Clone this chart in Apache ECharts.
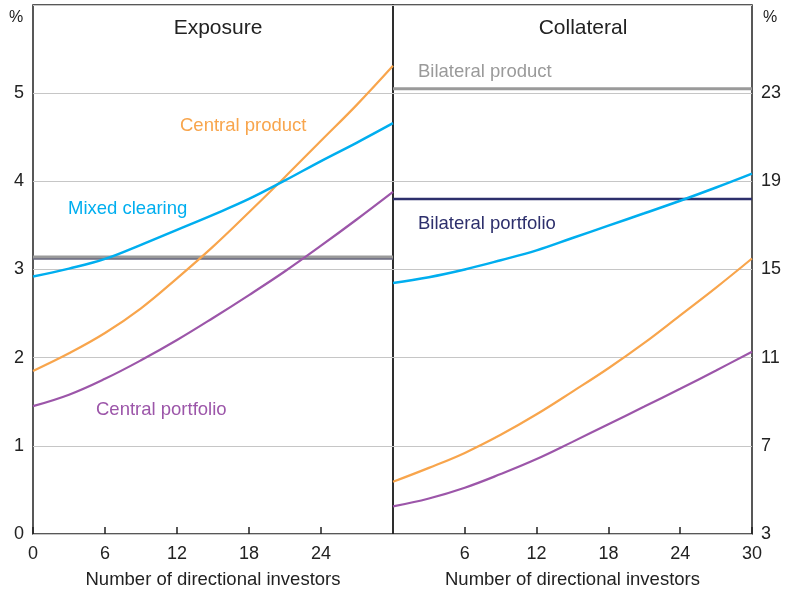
<!DOCTYPE html>
<html>
<head>
<meta charset="utf-8">
<script src="https://cdn.jsdelivr.net/npm/echarts@6/dist/echarts.min.js"></script>
<style>
  html, body { margin: 0; padding: 0; background: #fff; }
  #chart { width: 785px; height: 594px; }
</style>
</head>
<body>
<div id="chart"></div>
<script>
// number of directional investors (x)
const investors = [0, 3, 6, 9, 12, 15, 18, 21, 24, 27, 30];

// Exposure panel, per cent
const expCentralProduct   = [1.85, 2.05, 2.28, 2.56, 2.90, 3.26, 3.65, 4.05, 4.46, 4.87, 5.31];
const expMixedClearing    = [2.92, 3.01, 3.12, 3.28, 3.45, 3.62, 3.80, 4.01, 4.23, 4.44, 4.66];
const expCentralPortfolio = [1.45, 1.58, 1.76, 1.97, 2.20, 2.45, 2.71, 2.98, 3.27, 3.57, 3.88];
const expBilateralProduct   = [3.14, 3.14, 3.14, 3.14, 3.14, 3.14, 3.14, 3.14, 3.14, 3.14, 3.14];
const expBilateralPortfolio = [3.12, 3.12, 3.12, 3.12, 3.12, 3.12, 3.12, 3.12, 3.12, 3.12, 3.12];

// Collateral panel, per cent
const colCentralProduct   = [5.37, 6.00, 6.68, 7.50, 8.43, 9.46, 10.52, 11.67, 12.92, 14.18, 15.50];
const colMixedClearing    = [14.39, 14.65, 15.00, 15.42, 15.87, 16.43, 16.99, 17.55, 18.12, 18.72, 19.35];
const colCentralPortfolio = [4.25, 4.61, 5.10, 5.72, 6.40, 7.18, 7.98, 8.78, 9.59, 10.42, 11.27];
const colBilateralProduct   = [23.2, 23.2, 23.2, 23.2, 23.2, 23.2, 23.2, 23.2, 23.2, 23.2, 23.2];
const colBilateralPortfolio = [18.2, 18.2, 18.2, 18.2, 18.2, 18.2, 18.2, 18.2, 18.2, 18.2, 18.2];

const ORANGE = '#f8a54c';
const CYAN = '#00aeef';
const PURPLE = '#9c56a9';
const NAVY = '#2d2f6c';
const GREY = '#9a9a9a';
const FONT = '"Liberation Sans", Arial, sans-serif';

const pairs = (vals) => investors.map((x, i) => [x, vals[i]]);

function line(name, vals, color, width, idx) {
  return {
    name,
    type: 'line',
    xAxisIndex: idx,
    yAxisIndex: idx,
    data: pairs(vals),
    smooth: 0.4,
    showSymbol: false,
    lineStyle: { color, width },
    z: 3
  };
}

function xAxisOf(idx) {
  return {
    type: 'value',
    gridIndex: idx,
    min: 0,
    max: 30,
    interval: 6,
    name: 'Number of directional investors',
    nameLocation: 'middle',
    nameGap: 36,
    nameTextStyle: { color: '#222', fontSize: 18.5, fontFamily: FONT },
    axisLine: { show: false },
    axisTick: { show: true, inside: true, length: 7, lineStyle: { color: '#222', width: 1.5 } },
    axisLabel: {
      color: '#222', fontSize: 18, fontFamily: FONT, margin: 11,
      showMinLabel: idx === 1 ? false : true,
      showMaxLabel: idx === 0 ? false : true,
      formatter: (v) => (idx === 0 && v === 30) || (idx === 1 && v === 0) ? '' : String(v)
    },
    splitLine: { show: false }
  };
}

const chart = echarts.init(document.getElementById('chart'));

chart.setOption({
  animation: false,
  textStyle: { fontFamily: FONT },
  grid: [
    { left: 33, right: 392, top: 5, bottom: 59, show: true, borderColor: '#222', borderWidth: 1.5, backgroundColor: 'transparent' },
    { left: 393, right: 33, top: 5, bottom: 59, show: true, borderColor: '#222', borderWidth: 1.5, backgroundColor: 'transparent' }
  ],
  title: [
    { text: 'Exposure', left: 213, top: 13, textAlign: 'center',
      textStyle: { color: '#222', fontSize: 21, fontWeight: 'normal', fontFamily: FONT } },
    { text: 'Collateral', left: 578, top: 13, textAlign: 'center',
      textStyle: { color: '#222', fontSize: 21, fontWeight: 'normal', fontFamily: FONT } }
  ],
  xAxis: [xAxisOf(0), xAxisOf(1)],
  yAxis: [
    {
      type: 'value', gridIndex: 0, min: 0, max: 6, interval: 1, position: 'left',
      axisLine: { show: false }, axisTick: { show: false },
      axisLabel: { color: '#222', fontSize: 18, fontFamily: FONT, margin: 9,
        formatter: (v) => v === 6 ? '' : String(v) },
      splitLine: { lineStyle: { color: '#c6c6c6', width: 1.2 } }
    },
    {
      type: 'value', gridIndex: 1, min: 3, max: 27, interval: 4, position: 'right',
      axisLine: { show: false }, axisTick: { show: false },
      axisLabel: { color: '#222', fontSize: 18, fontFamily: FONT, margin: 9,
        formatter: (v) => v === 27 ? '' : String(v) },
      splitLine: { lineStyle: { color: '#c6c6c6', width: 1.2 } }
    }
  ],
  series: [
    line('Bilateral product', expBilateralProduct, GREY, 3.5, 0),
    line('Bilateral portfolio', expBilateralPortfolio, '#6a6a80', 1.5, 0),
    line('Central product', expCentralProduct, ORANGE, 2.2, 0),
    line('Mixed clearing', expMixedClearing, CYAN, 2.5, 0),
    line('Central portfolio', expCentralPortfolio, PURPLE, 2.2, 0),
    line('Bilateral product', colBilateralProduct, GREY, 3, 1),
    line('Bilateral portfolio', colBilateralPortfolio, NAVY, 2.5, 1),
    line('Central product', colCentralProduct, ORANGE, 2.2, 1),
    line('Mixed clearing', colMixedClearing, CYAN, 2.5, 1),
    line('Central portfolio', colCentralPortfolio, PURPLE, 2.2, 1)
  ],
  graphic: [
    { type: 'text', left: 9, top: 10, style: { text: '%', fill: '#222', font: '16px ' + FONT } },
    { type: 'text', left: 763, top: 10, style: { text: '%', fill: '#222', font: '16px ' + FONT } },
    { type: 'text', left: 180, top: 116, style: { text: 'Central product', fill: ORANGE, font: '18.5px ' + FONT } },
    { type: 'text', left: 68, top: 199, style: { text: 'Mixed clearing', fill: CYAN, font: '18.5px ' + FONT } },
    { type: 'text', left: 96, top: 400, style: { text: 'Central portfolio', fill: PURPLE, font: '18.5px ' + FONT } },
    { type: 'text', left: 418, top: 62, style: { text: 'Bilateral product', fill: GREY, font: '18.5px ' + FONT } },
    { type: 'text', left: 418, top: 214, style: { text: 'Bilateral portfolio', fill: NAVY, font: '18.5px ' + FONT } }
  ]
});

window.addEventListener('resize', () => chart.resize());
</script>
</body>
</html>
